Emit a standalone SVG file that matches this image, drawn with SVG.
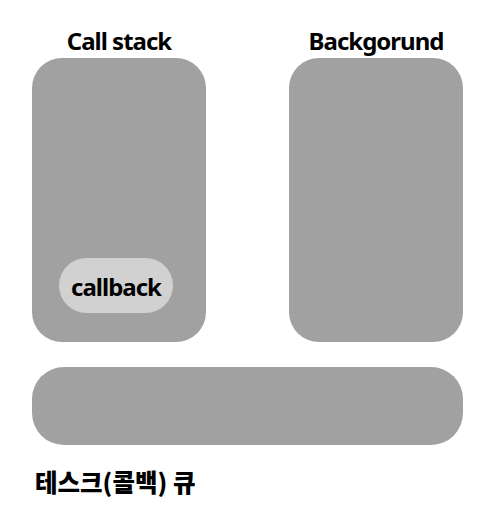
<svg xmlns="http://www.w3.org/2000/svg" width="501" height="521" viewBox="0 0 501 521">
<style>
.box{fill:#a1a1a1}
.pill{fill:#d1d1d1}
.t{font-family:"Noto Sans","Noto Sans CJK KR",sans-serif;font-weight:bold;fill:#000;letter-spacing:-1px}
.k{font-family:"Noto Sans CJK KR",sans-serif;font-weight:900;fill:#000}
</style>
<rect width="501" height="521" fill="#fff"/>
<g id="callstack">
<rect class="box" x="32" y="58" width="174" height="284" rx="30"/>
<text class="t" x="119" y="50" font-size="24" text-anchor="middle">Call stack</text>
</g>
<g id="callback">
<rect class="pill" x="59" y="258" width="114" height="55" rx="27.5"/>
<text class="t" x="116" y="296" font-size="24" text-anchor="middle">callback</text>
</g>
<g id="background">
<rect class="box" x="289" y="58" width="174" height="284" rx="30"/>
<text class="t" x="376" y="50" font-size="24" text-anchor="middle">Backgorund</text>
</g>
<g id="queue">
<rect class="box" x="32" y="367" width="431" height="78" rx="32"/>
<text class="k" x="35" y="492" font-size="24.5">테스크(콜백) 큐</text>
</g>
<g id="connectors"/>
</svg>
